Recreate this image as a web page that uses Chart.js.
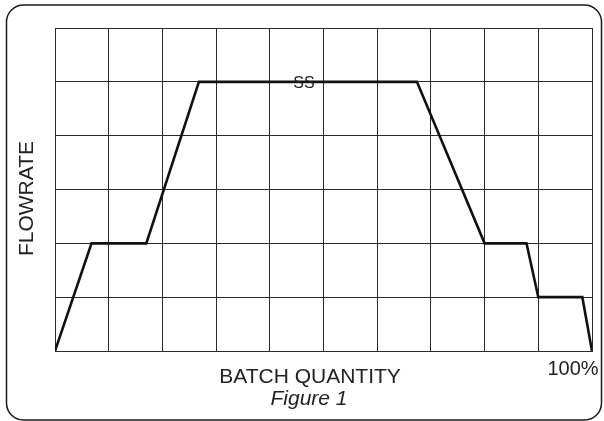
<!DOCTYPE html>
<html>
<head>
<meta charset="utf-8">
<script src="https://cdn.jsdelivr.net/npm/chart.js@4/dist/chart.umd.min.js"></script>
<style>
  html, body { margin: 0; padding: 0; background: #fff; }
  canvas { display: block; }
</style>
</head>
<body>
<canvas id="chart" width="604" height="421"></canvas>
<script>
// batch quantity (0..10 grid columns = 0..100%) and flowrate (0..6 grid rows)
const batchQty = [0, 0.68, 1.70, 2.68, 6.74, 8.0, 8.78, 9.0, 9.82, 10];
const flowrate = [0, 2, 2, 5, 5, 2, 2, 1, 1, 0];

const xTitle = 'BATCH QUANTITY';
const yTitle = 'FLOWRATE';
const caption = 'Figure 1';
const endLabel = '100%';
const plateauLabel = 'SS';

const GRID = '#2b2b2b';
const FONT = '"Liberation Sans", Arial, sans-serif';

const points = batchQty.map((x, i) => ({ x: x, y: flowrate[i] }));

// frame and text drawn on the canvas around the plot area
const decorations = {
    id: 'decorations',
    afterDraw(chart) {
        const ctx = chart.ctx;
        const ys = chart.scales.y;
        ctx.save();

        // rounded outer frame
        ctx.strokeStyle = '#1a1a1a';
        ctx.lineWidth = 1.5;
        ctx.beginPath();
        ctx.roundRect(6.5, 5, 595, 415, 17);
        ctx.stroke();

        ctx.fillStyle = '#222';
        ctx.textAlign = 'center';
        ctx.textBaseline = 'alphabetic';

        ctx.font = '21px ' + FONT;
        ctx.fillText(xTitle, 310, 383);

        ctx.font = 'italic 21px ' + FONT;
        ctx.fillText(caption, 309, 405);

        ctx.font = '20px ' + FONT;
        ctx.fillText(endLabel, 573, 375);

        ctx.font = '16px ' + FONT;
        ctx.fillText(plateauLabel, 304, ys.getPixelForValue(5) + 6);

        ctx.translate(33, 198.5);
        ctx.rotate(-Math.PI / 2);
        ctx.font = '21px ' + FONT;
        ctx.fillText(yTitle, 0, 0);

        ctx.restore();
    }
};

new Chart(document.getElementById('chart'), {
    type: 'line',
    data: {
        datasets: [{
            data: points,
            borderColor: '#111',
            borderWidth: 2.6,
            borderJoinStyle: 'miter',
            pointRadius: 0,
            tension: 0,
            fill: false
        }]
    },
    options: {
        responsive: false,
        animation: false,
        layout: {
            padding: { left: 55, top: 28, right: 12, bottom: 70 }
        },
        plugins: {
            legend: { display: false },
            tooltip: { enabled: false }
        },
        scales: {
            x: {
                type: 'linear',
                min: 0,
                max: 10,
                ticks: { display: false, stepSize: 1 },
                grid: { color: GRID, lineWidth: 1, drawTicks: false },
                border: { color: GRID, width: 1 }
            },
            y: {
                type: 'linear',
                min: 0,
                max: 6,
                ticks: { display: false, stepSize: 1 },
                grid: { color: GRID, lineWidth: 1, drawTicks: false },
                border: { color: GRID, width: 1 }
            }
        }
    },
    plugins: [decorations]
});
</script>
</body>
</html>
